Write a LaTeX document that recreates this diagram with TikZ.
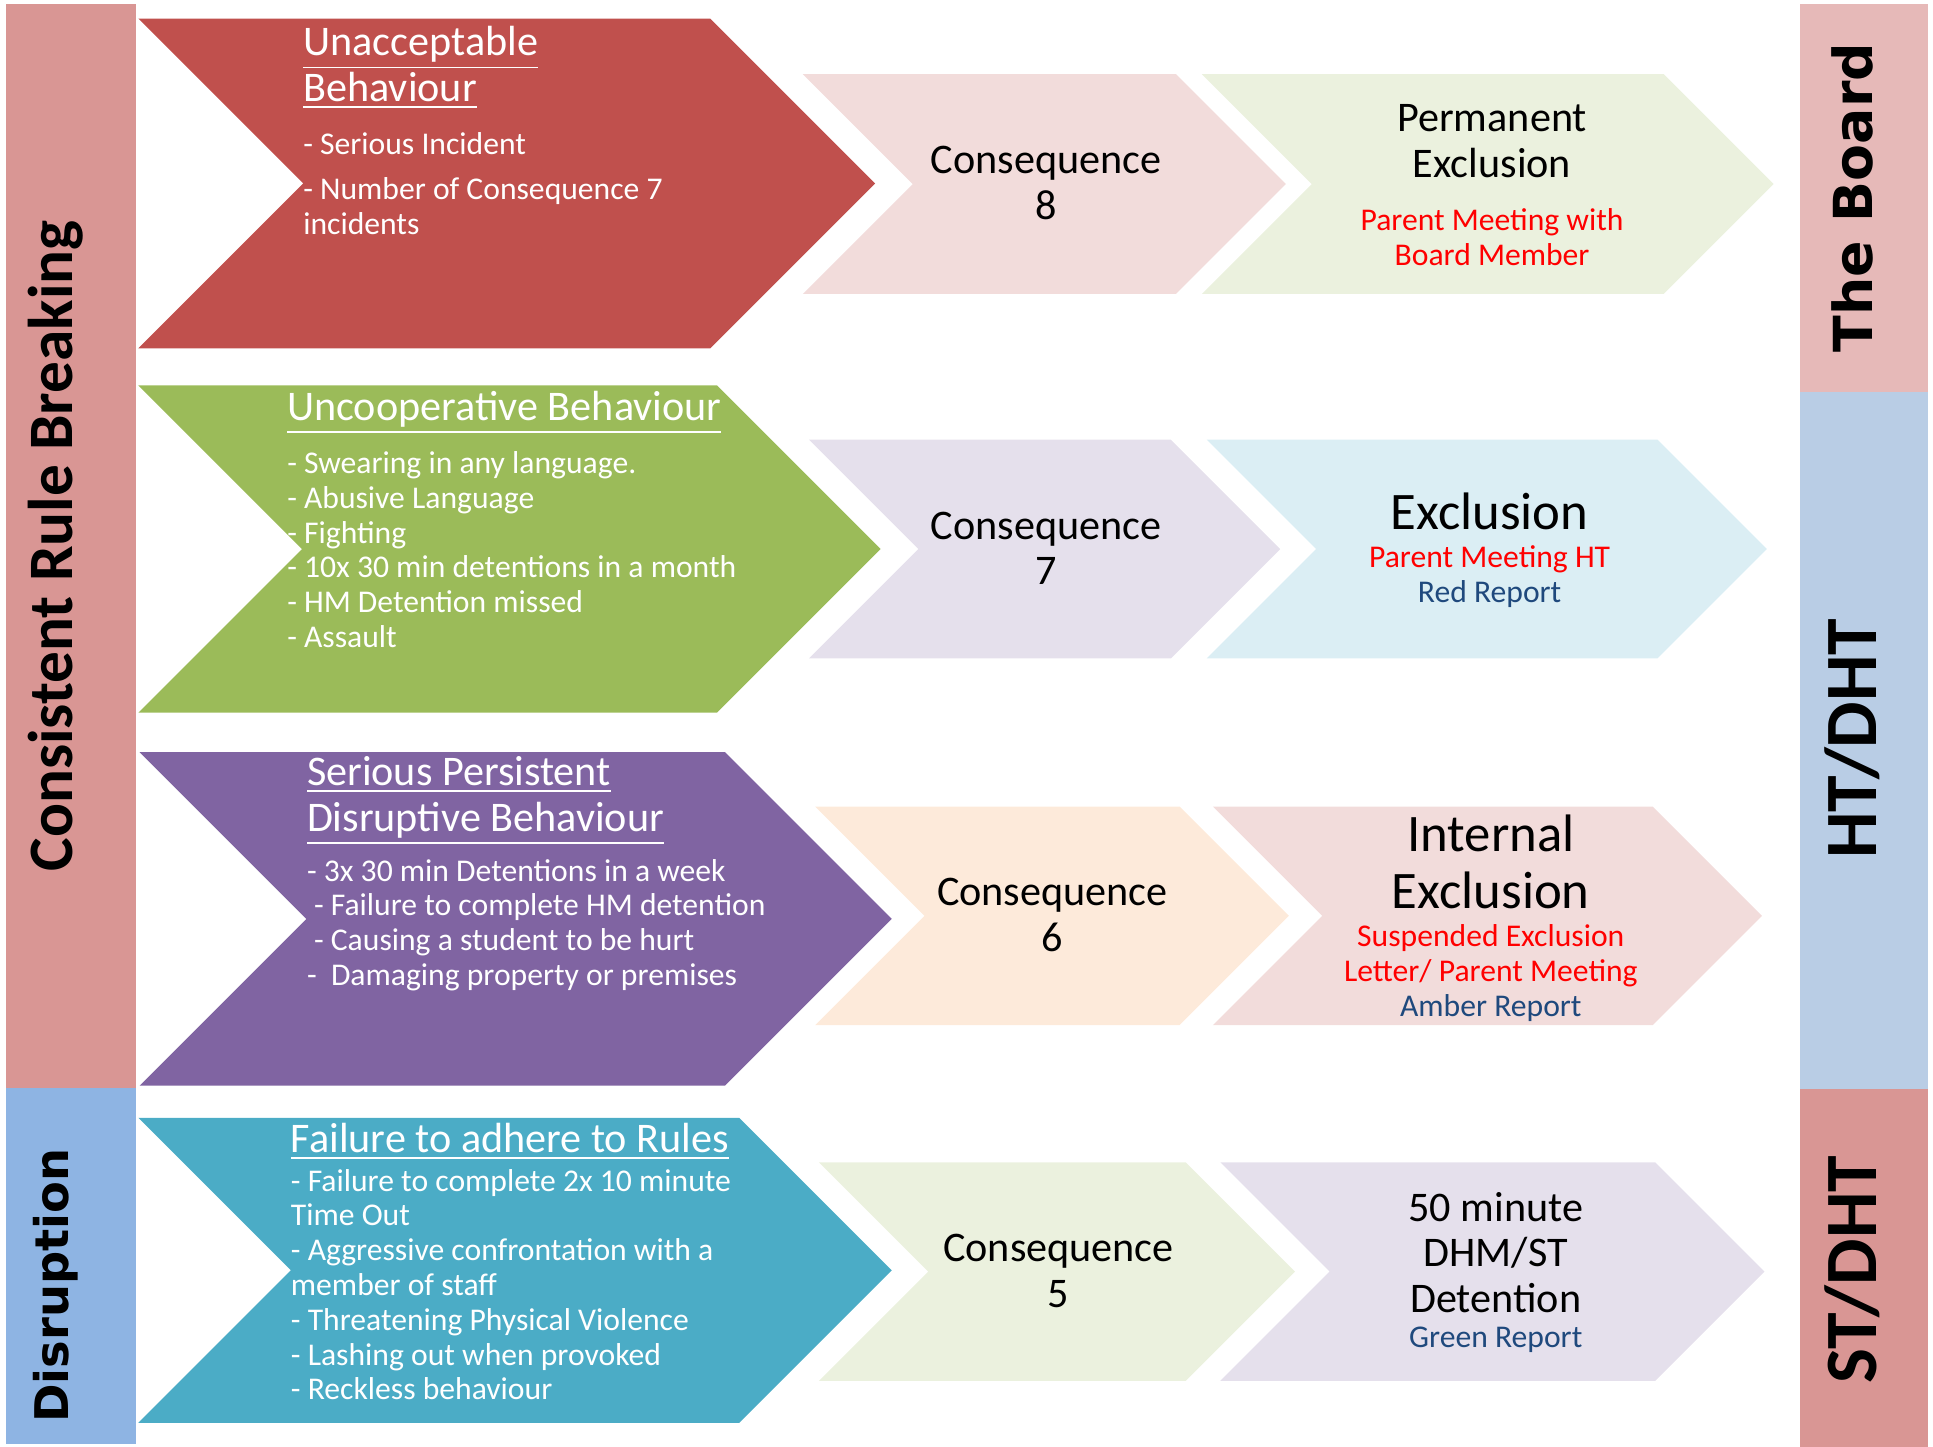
\documentclass[tikz,border=0pt]{standalone}
\usepackage{fontspec}
\setmainfont{Carlito}
\newfontfamily\verdfont{DejaVu Sans}
\newcommand\uln[1]{\underline{#1}}

\definecolor{barpink}{HTML}{D99694}
\definecolor{barblue}{HTML}{8EB4E3}
\definecolor{boardpink}{HTML}{E6B9B8}
\definecolor{htblue}{HTML}{B9CDE5}
\definecolor{unacc}{HTML}{C0504D}
\definecolor{uncoop}{HTML}{9BBB59}
\definecolor{persist}{HTML}{8064A2}
\definecolor{rules}{HTML}{4BACC6}
\definecolor{pinklt}{HTML}{F2DCDB}
\definecolor{greenlt}{HTML}{EBF1DE}
\definecolor{lilaclt}{HTML}{E5E0EC}
\definecolor{bluelt}{HTML}{DBEEF4}
\definecolor{orangelt}{HTML}{FDEADA}
\definecolor{notered}{HTML}{FF0000}
\definecolor{reportblue}{HTML}{1F497D}

\tikzset{
  head/.style={anchor=north west, inner sep=0pt, align=left, text=white, font=\fontsize{12}{13}\selectfont},
  items/.style={anchor=north west, inner sep=0pt, align=left, text=white, font=\fontsize{9}{9.9}\selectfont},
  conseq/.style={inner sep=0pt, align=center, font=\fontsize{12}{13}\selectfont},
  outcome/.style={inner sep=0pt, align=center, font=\fontsize{15}{16.3}\selectfont},
  note/.style={inner sep=0pt, align=center, text=notered, font=\fontsize{9}{9.9}\selectfont},
  sidelabel/.style={rotate=90, inner sep=0pt, font=\bfseries\fontsize{18}{20}\selectfont},
}

\begin{document}
\begin{tikzpicture}[x=0.1235mm,y=-0.1235mm]
  % chevron: colour, left x, top y, width up to the corner, height
  \def\chev#1#2#3#4#5{\fill[#1] (#2,#3) -- ++(#4,0) -- ++({#5/2},{#5/2}) -- ++({-#5/2},{#5/2}) -- ++(-#4,0) -- ++({#5/2},{-#5/2}) -- cycle;}
  \useasboundingbox (0,0) rectangle (1565,1171.5);

  % side bars
  \fill[barpink] (5,3) rectangle (110,881);
  \fill[barblue] (5,881) rectangle (110,1169);
  \fill[boardpink] (1457,3) rectangle (1561,317);
  \fill[htblue] (1457,317) rectangle (1561,882);
  \fill[barpink] (1457,882) rectangle (1561,1171.5);

  \node[sidelabel] (crb) at (45,442) {Consistent Rule Breaking};
  \node[sidelabel, font=\verdfont\bfseries\fontsize{13.2}{15}\selectfont] (disr) at (45,1041) {Disruption};
  \node[sidelabel, font=\verdfont\bfseries\fontsize{15.3}{17}\selectfont] (board) at (1500,160) {The Board};
  \node[sidelabel, font=\bfseries\fontsize{21}{23}\selectfont] (htdht) at (1500,598) {HT/DHT};
  \node[sidelabel, font=\bfseries\fontsize{21}{23}\selectfont] (stdht) at (1500,1028) {ST/DHT};

  % chevrons
  \chev{unacc}{112}{15}{463}{267}
  \chev{pinklt}{650}{60}{302}{178}
  \chev{greenlt}{973}{60}{374}{178}
  \chev{uncoop}{112}{312}{468.5}{265}
  \chev{lilaclt}{655}{356}{293}{177}
  \chev{bluelt}{977}{356}{365}{177}
  \chev{persist}{113}{609}{474}{270}
  \chev{orangelt}{660}{653}{295}{177}
  \chev{pinklt}{982}{653}{356}{177}
  \chev{rules}{112}{905}{486.5}{247}
  \chev{greenlt}{663}{941}{297}{177}
  \chev{lilaclt}{988}{941}{352}{177}

  % row 8
  \node[head] (t8) at (245,21) {\uln{Unacceptable}\\\uln{Behaviour}};
  \node[items] (b8) at (245,107) {- Serious Incident\\[2.8pt]- Number of Consequence 7\\incidents};
  \node[conseq] (c8) at (847,148) {Consequence\\8};
  \node[conseq] (o8) at (1208,114) {Permanent\\Exclusion};
  \node[note] (n8) at (1208,192) {Parent Meeting with\\Board Member};

  % row 7
  \node[head] (t7) at (232,316) {\uln{Uncooperative Behaviour}};
  \node[items] (b7) at (232,365) {- Swearing in any language.\\- Abusive Language\\- Fighting\\- 10x 30 min detentions in a month\\- HM Detention missed\\- Assault};
  \node[conseq] (c7) at (847,444) {Consequence\\7};
  \node[outcome] (o7) at (1206,414) {Exclusion};
  \node[note] (n7) at (1206,467) {Parent Meeting HT\\\textcolor{reportblue}{Red Report}};

  % row 6
  \node[head] (t6) at (248,612) {\uln{Serious Persistent}\\\uln{Disruptive Behaviour}};
  \node[items] (b6) at (248,695) {- 3x 30 min Detentions in a week\\\hspace*{2pt}- Failure to complete HM detention\\\hspace*{2pt}- Causing a student to be hurt\\-\ \ Damaging property or premises};
  \node[conseq] (c6) at (852,741) {Consequence\\6};
  \node[outcome] (o6) at (1207,698) {Internal\\Exclusion};
  \node[note] (n6) at (1207,788) {Suspended Exclusion\\Letter/ Parent Meeting\\\textcolor{reportblue}{Amber Report}};

  % row 5
  \node[head] (t5) at (235,909) {\uln{Failure to adhere to Rules}};
  \node[items] (b5) at (235,946) {- Failure to complete 2x 10 minute\\Time Out\\- Aggressive confrontation with a\\member of staff\\- Threatening Physical Violence\\- Lashing out when provoked\\- Reckless behaviour};
  \node[conseq] (c5) at (857,1029) {Consequence\\5};
  \node[conseq] (o5) at (1211,1014) {50 minute\\DHM/ST\\Detention};
  \node[note, text=reportblue] (n5) at (1211,1085) {Green Report};
\end{tikzpicture}
\end{document}
